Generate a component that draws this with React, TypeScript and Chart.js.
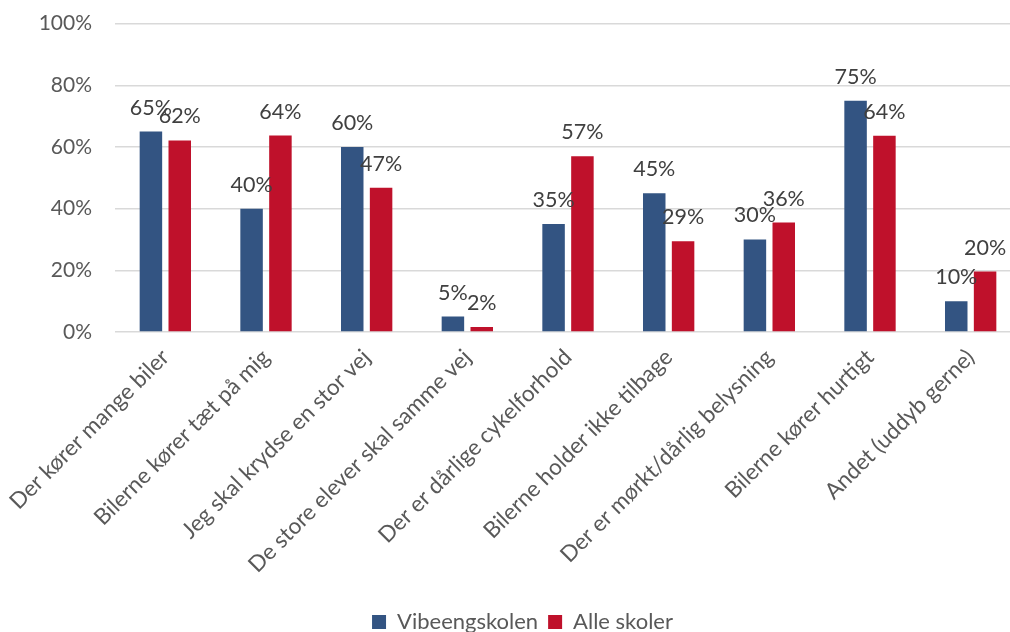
import React, { useEffect, useRef } from "react";
import { Chart, registerables } from "chart.js";

Chart.register(...registerables);

const categories = [
  "Der kører mange biler",
  "Bilerne kører tæt på mig",
  "Jeg skal krydse en stor vej",
  "De store elever skal samme vej",
  "Der er dårlige cykelforhold",
  "Bilerne holder ikke tilbage",
  "Der er mørkt/dårlig belysning",
  "Bilerne kører hurtigt",
  "Andet (uddyb gerne)",
];
const seriesNames = ["Vibeengskolen", "Alle skoler"];
const vibeengskolen = [65, 40, 60, 5, 35, 45, 30, 75, 10];
const alleSkoler = [62.1, 63.7, 46.8, 1.6, 57.0, 29.4, 35.5, 63.6, 19.6];
const yMin = 0;
const yMax = 100;
const yStep = 20;

const FONT = "Lato";
const BLUE = "#335482";
const RED = "#BF112B";

const dataLabels = {
  id: "dataLabels",
  afterDatasetsDraw(chart: any) {
    const ctx = chart.ctx;
    ctx.save();
    ctx.font = `21.5px ${FONT}`;
    ctx.fillStyle = "#404040";
    ctx.textAlign = "center";
    ctx.textBaseline = "alphabetic";
    chart.data.datasets.forEach((ds: any, i: number) => {
      const meta = chart.getDatasetMeta(i);
      meta.data.forEach((bar: any, j: number) => {
        ctx.fillText(Math.round(ds.data[j]) + "%", bar.x, bar.y - 17);
      });
    });
    ctx.restore();
  },
};

const legendShift = {
  id: "legendShift",
  afterLayout(chart: any) {
    const lg = chart.legend;
    if (lg) {
      lg.left += 12;
      lg.right += 12;
    }
  },
};

export default function App() {
  const ref = useRef<HTMLCanvasElement | null>(null);

  useEffect(() => {
    if (!ref.current) return;
    const chart = new Chart(ref.current, {
      type: "bar",
      data: {
        labels: categories,
        datasets: [
          {
            label: seriesNames[0],
            data: vibeengskolen,
            backgroundColor: BLUE,
            categoryPercentage: 0.573,
            barPercentage: 0.78,
          },
          {
            label: seriesNames[1],
            data: alleSkoler,
            backgroundColor: RED,
            categoryPercentage: 0.573,
            barPercentage: 0.78,
          },
        ],
      },
      options: {
        responsive: false,
        animation: false,
        layout: { padding: { top: 11, right: 9, left: 0, bottom: 2 } },
        plugins: {
          legend: {
            position: "bottom",
            labels: {
              boxWidth: 14,
              boxHeight: 14,
              color: "#595959",
              font: { family: FONT, size: 22 },
              padding: 10,
            },
          },
          tooltip: { enabled: false },
        },
        scales: {
          x: {
            grid: { display: false },
            border: { display: false },
            ticks: {
              color: "#595959",
              font: { family: FONT, size: 22.5 },
              minRotation: 45,
              maxRotation: 45,
              padding: 4,
              autoSkip: false,
            },
            afterFit: (scale: any) => {
              scale.height = 269;
            },
          },
          y: {
            min: yMin,
            max: yMax,
            grid: { color: "#d9d9d9", lineWidth: 1.5, drawTicks: false },
            border: { display: false },
            ticks: {
              stepSize: yStep,
              color: "#595959",
              font: { family: FONT, size: 21 },
              padding: 23,
              callback: (v: any) => v + "%",
            },
            afterFit: (scale: any) => {
              scale.width = 115;
            },
          },
        },
      },
      plugins: [dataLabels, legendShift],
    });
    return () => chart.destroy();
  }, []);

  return (
    <div
      style={{
        position: "fixed",
        left: 0,
        top: 0,
        width: 1010,
        height: 632,
        overflow: "hidden",
        background: "#fff",
      }}
    >
      <canvas
        ref={ref}
        width={1030}
        height={657}
        style={{ display: "block", marginTop: -12 }}
      />
    </div>
  );
}
